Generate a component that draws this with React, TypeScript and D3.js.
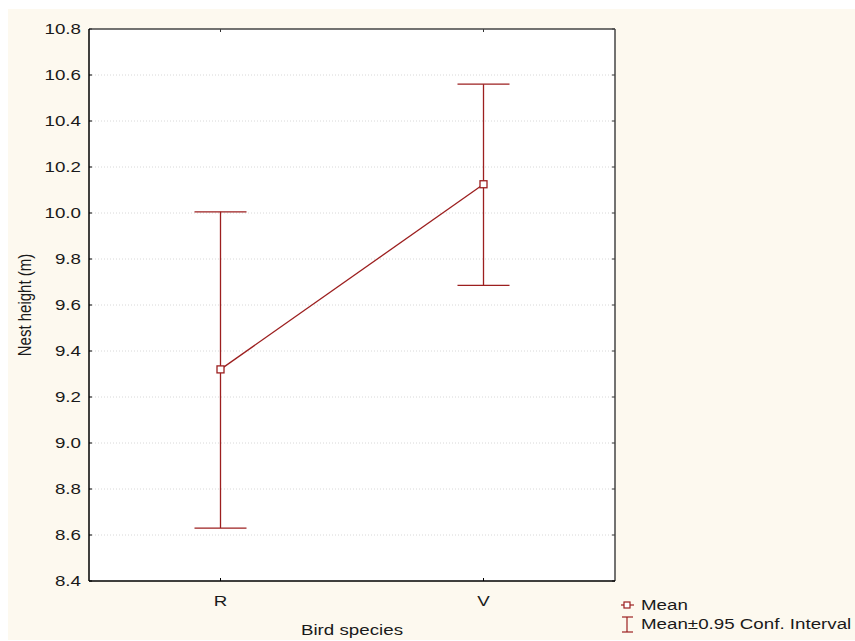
import React from "react";
import * as d3 from "d3";

const categories = ["R", "V"];
const means = [9.32, 10.125];
const lower = [8.63, 9.685];
const upper = [10.005, 10.56];
const yTicks = [8.4, 8.6, 8.8, 9.0, 9.2, 9.4, 9.6, 9.8, 10.0, 10.2, 10.4, 10.6, 10.8];

const W = 855, H = 641;
const L = 89, R = 615, T = 29, B = 581;
const RED = "#9c1f1f";
const FONT = "'Liberation Sans', Arial, sans-serif";
const FS = 15;
const SX = 1.25;

function HText({ x, y, anchor = "start", children }: { x: number; y: number; anchor?: string; children: React.ReactNode }) {
  return (
    <text transform={`translate(${x},${y}) scale(${SX},1)`} dy="0.36em" textAnchor={anchor as any} fontSize={FS} fill="#1a1a1a">
      {children}
    </text>
  );
}

export default function App() {
  const x = d3.scalePoint<string>().domain(categories).range([L, R]).padding(0.5);
  const y = d3.scaleLinear().domain([8.4, 10.8]).range([B, T]);
  const line = d3.line<number>().x((_, i) => x(categories[i])!).y((d) => y(d));
  const cap = 26;
  return (
    <svg width={W} height={H} style={{ position: "absolute", left: 0, top: 0, fontFamily: FONT }}>
      <rect x={8} y={9} width={W - 8} height={631} fill="#fdf9ef" />
      <rect x={L} y={T} width={R - L} height={B - T} fill="#ffffff" />
      {yTicks.slice(1, -1).map((t) => (
        <line key={t} x1={L} x2={R} y1={y(t)} y2={y(t)} stroke="#d8d8d8" strokeDasharray="1,2" />
      ))}
      {yTicks.map((t) => (
        <g key={"t" + t}>
          <line x1={L} x2={L + 3} y1={y(t)} y2={y(t)} stroke="#000" />
          <line x1={R} x2={R - 3} y1={y(t)} y2={y(t)} stroke="#333" />
          <HText x={81} y={y(t)} anchor="end">{t.toFixed(1)}</HText>
        </g>
      ))}
      {categories.map((c) => (
        <g key={c}>
          <line x1={x(c)} x2={x(c)} y1={B} y2={B - 3} stroke="#000" />
          <line x1={x(c)} x2={x(c)} y1={T} y2={T + 3} stroke="#333" />
          <HText x={x(c)!} y={601} anchor="middle">{c}</HText>
        </g>
      ))}
      <line x1={L} x2={R} y1={T} y2={T} stroke="#444" strokeWidth={1.5} />
      <line x1={R} x2={R} y1={T} y2={B} stroke="#444" strokeWidth={1.5} />
      <line x1={L} x2={L} y1={T} y2={B} stroke="#000" strokeWidth={1.5} />
      <line x1={L} x2={R} y1={B} y2={B} stroke="#000" strokeWidth={1.5} />
      {categories.map((c, i) => (
        <g key={"e" + c} stroke={RED} strokeWidth={1.3}>
          <line x1={x(c)} x2={x(c)} y1={y(lower[i])} y2={y(upper[i])} />
          <line x1={x(c)! - cap} x2={x(c)! + cap} y1={y(lower[i])} y2={y(lower[i])} />
          <line x1={x(c)! - cap} x2={x(c)! + cap} y1={y(upper[i])} y2={y(upper[i])} />
        </g>
      ))}
      <path d={line(means)!} fill="none" stroke={RED} strokeWidth={1.3} />
      {categories.map((c, i) => (
        <rect key={"m" + c} x={x(c)! - 3.5} y={y(means[i]) - 3.5} width={7} height={7} fill="#fff" stroke={RED} strokeWidth={1.3} />
      ))}
      <HText x={(L + R) / 2} y={630} anchor="middle">Bird species</HText>
      <text transform={`translate(24,${(T + B) / 2}) rotate(-90) scale(1,${SX})`} textAnchor="middle" dy="0.36em" fontSize={FS} fill="#1a1a1a">
        Nest height (m)
      </text>
      <g>
        <line x1={621} x2={634} y1={605} y2={605} stroke={RED} strokeWidth={1.2} />
        <rect x={624} y={602} width={6} height={6} fill="#fff" stroke={RED} strokeWidth={1.2} />
        <HText x={641} y={605}>Mean</HText>
        <line x1={627} x2={627} y1={617} y2={632} stroke={RED} strokeWidth={1.2} />
        <line x1={622} x2={633} y1={617} y2={617} stroke={RED} strokeWidth={1.2} />
        <line x1={622} x2={633} y1={632} y2={632} stroke={RED} strokeWidth={1.2} />
        <HText x={641} y={624}>Mean±0.95 Conf. Interval</HText>
      </g>
    </svg>
  );
}
